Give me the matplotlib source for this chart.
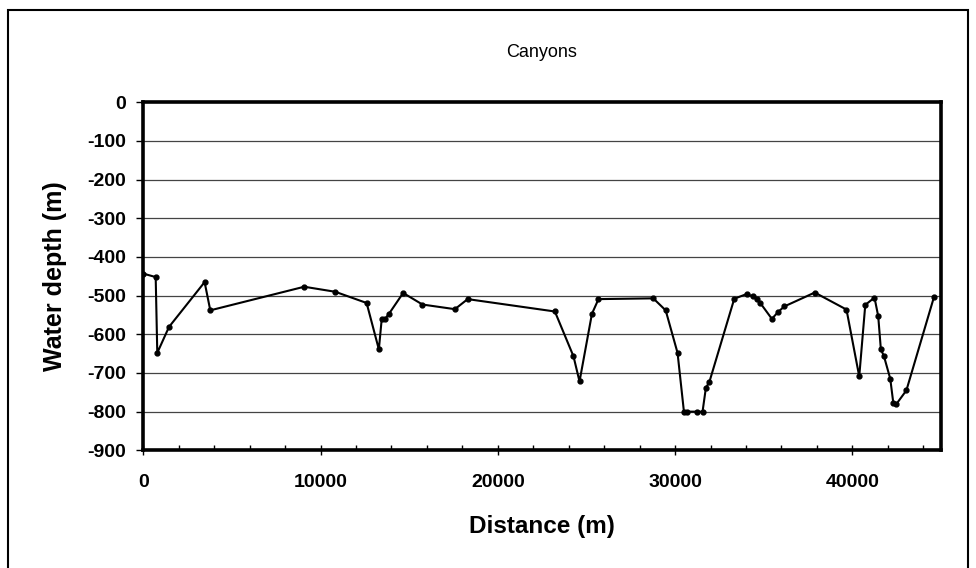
import matplotlib.pyplot as plt
from matplotlib.patches import Rectangle
from matplotlib.ticker import MultipleLocator

plt.rcParams['font.family'] = ['Liberation Sans', 'DejaVu Sans']
plt.rcParams['axes.unicode_minus'] = False

# --- data
distance = [0, 700, 790, 1450, 3460, 3780, 9080, 10830, 12600, 13290, 13450, 13630,
            13860, 14660, 15750, 17580, 18300, 23220, 24270, 24610, 25310, 25680, 28770, 29470,
            30140, 30500, 30650, 31210, 31550, 31740, 31930, 33340, 34030, 34410, 34600, 34790,
            35460, 35820, 36160, 37880, 39670, 40390, 40730, 41250, 41460, 41610, 41780, 42140,
            42310, 42490, 43050, 44610]
depth = [-443, -452, -648, -581, -465, -538, -477, -490, -519, -639, -561, -561,
         -547, -493, -523, -535, -509, -541, -657, -722, -547, -509, -507, -538,
         -648, -800, -800, -800, -800, -738, -724, -508, -496, -502, -509, -518,
         -560, -542, -528, -492, -536, -709, -524, -505, -553, -639, -656, -715,
         -777, -780, -745, -503]

x_ticks = [0, 10000, 20000, 30000, 40000]
y_ticks = list(range(-900, 1, 100))

# --- plot
fig = plt.figure(figsize=(9.76, 5.68), dpi=100)
ax = fig.add_axes([0.1468, 0.2072, 0.8173, 0.6127])

for yv in y_ticks[1:-1]:
    ax.axhline(yv, color='#444444', lw=0.9, zorder=1)

ax.plot(distance, depth, '-o', color='black', lw=1.5, ms=3.5, zorder=3)

ax.set_xlim(0, 45000)
ax.set_ylim(-900, 0)
ax.set_xticks(x_ticks)
ax.xaxis.set_minor_locator(MultipleLocator(2000))
ax.set_yticks(y_ticks)

for s in ax.spines.values():
    s.set_linewidth(2.6)

ax.tick_params(axis='x', which='major', direction='inout', length=7.5, width=1,
               labelsize=14, pad=13.5)
ax.tick_params(axis='x', which='minor', direction='in', length=3.4, width=1)
ax.tick_params(axis='y', which='major', direction='out', length=5, width=1,
               labelsize=14, pad=7.5)
for lab in ax.get_xticklabels() + ax.get_yticklabels():
    lab.set_fontweight('bold')

ax.set_xlabel('Distance (m)', fontsize=17.5, fontweight='bold')
ax.set_ylabel('Water depth (m)', fontsize=18, fontweight='bold')
ax.xaxis.set_label_coords(0.5, -0.186)
ax.yaxis.set_label_coords(-0.095, 0.5)
fig.text(0.555, 0.908, 'Canyons', fontsize=13, ha='center', va='center')

# outer chart frame
fig.patches.append(Rectangle((8 / 976, -0.05), 960 / 976, 1.05 - 10 / 568,
                             transform=fig.transFigure, fill=False,
                             edgecolor='black', lw=1.5))

fig.savefig('out.png', dpi=100)
